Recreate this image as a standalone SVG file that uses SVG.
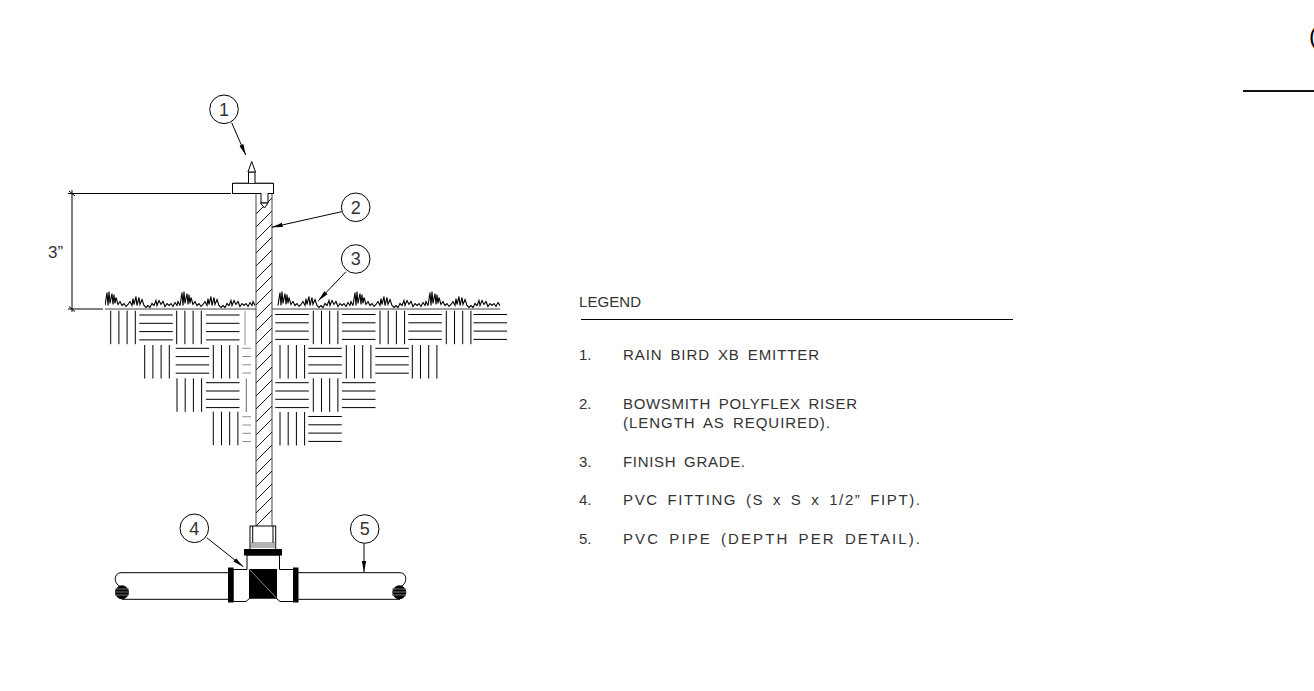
<svg xmlns="http://www.w3.org/2000/svg" width="1314" height="691" viewBox="0 0 1314 691">
<style>
.l{fill:none;stroke:#000;stroke-width:1}
.g{fill:none;stroke:#444;stroke-width:1}
.f{fill:#fff;stroke:#000;stroke-width:1}
.k{fill:#000;stroke:#000;stroke-width:1}
.c{fill:#fff;stroke:#000;stroke-width:1}
.hh{fill:none;stroke:#111;stroke-width:1}
text{font-family:"Liberation Sans",Arial,sans-serif;fill:#333;font-size:15px;word-spacing:3px}
.n{font-size:18px;text-anchor:middle}
</style>
<defs>
<marker id="a" markerUnits="userSpaceOnUse" markerWidth="12" markerHeight="8" refX="11" refY="4" orient="auto"><path d="M0,1.8L11,4L0,6.2Z" fill="#000"/></marker>
<path id="tuft" fill="none" stroke="#000" stroke-width="1.1" d="M0,-3L2,-16L3,-3L4,-17L5,-5L7,-15L8,-4L9,-14L10,-5L11,-11L13,-4L15,-7L17,-3L19,-5L21,-2L23,-4L25,-7L27,-3L28,-10L29,-4L31,-12L32,-3L34,-11L35,-4L37,-9L39,-3L41,-1L43,-3L45,-1L47,-5L49,-3L51,-8L52,-3L54,-8L56,-4L58,-7L60,-2L62,-5L64,-3L66,-5L68,-2L70,-6L72,-3L73,-7L75,-3"/>
<g id="v"><path d="M0,0V33.5M8.2,0V33.5M16.4,0V33.5M24.6,0V33.5" class="l"/></g>
<g id="h"><path d="M0,0H33.5M0,8.3H33.5M0,16.6H33.5M0,24.9H33.5" class="l"/></g>
<clipPath id="rc"><rect x="256" y="193" width="16" height="333"/></clipPath>
<clipPath id="gl"><rect x="105" y="288" width="151" height="22"/></clipPath>
<clipPath id="gr"><rect x="277" y="288" width="223" height="22"/></clipPath>
</defs>

<g id="soil">
<use href="#v" x="110.7" y="310.7"/><use href="#h" x="139.3" y="315"/><use href="#v" x="176.7" y="310.7"/><use href="#h" x="206" y="315"/>
<path d="M245,311V345" class="g" opacity=".6"/>
<use href="#h" x="275.3" y="314.5"/><use href="#v" x="313.3" y="310.7"/><use href="#h" x="342" y="314.5"/><use href="#v" x="380" y="310.7"/><use href="#h" x="408.3" y="314.5"/><use href="#v" x="446.3" y="310.7"/><use href="#h" x="473.5" y="314.5"/>
<use href="#v" x="144.7" y="345"/><use href="#h" x="175.7" y="348.3"/><use href="#v" x="213.3" y="345"/>
<path d="M242.3,348.3H251M242.3,356.5H251M242.3,364.8H251M242.3,373H251" class="g" opacity=".6"/>
<use href="#v" x="280" y="345"/><use href="#h" x="308.3" y="348.3"/><use href="#v" x="346.3" y="345"/><use href="#h" x="375.3" y="348.3"/><use href="#v" x="412.3" y="345"/>
<use href="#v" x="177" y="378.3"/><use href="#h" x="206" y="382.7"/>
<path d="M246.3,378.5V412" class="g" opacity=".8"/>
<use href="#h" x="275.3" y="382.7"/><use href="#v" x="313.3" y="378.3"/><use href="#h" x="342" y="382.7"/>
<use href="#v" x="213.3" y="411.7"/>
<path d="M242.3,416.7H251M242.3,425H251M242.3,433.3H251M242.3,441.5H251" class="g" opacity=".6"/>
<use href="#v" x="280" y="412"/><use href="#h" x="308.3" y="416.5"/>
</g>

<g id="grade">
<path d="M105,309H256M272,309H500" class="g"/>
<g clip-path="url(#gl)"><use href="#tuft" x="105" y="308.5"/><use href="#tuft" x="180" y="308.5"/></g>
<g clip-path="url(#gr)"><use href="#tuft" x="278" y="308.5"/><use href="#tuft" x="353" y="308.5"/><use href="#tuft" x="428" y="308.5"/></g>
</g>

<g id="riser">
<rect x="256" y="193" width="16" height="333" fill="#fff" stroke="none"/>
<g clip-path="url(#rc)"><path class="hh" d="M256,214l16,-16M256,227l16,-16M256,240l16,-16M256,253l16,-16M256,266l16,-16M256,279l16,-16M256,292l16,-16M256,305l16,-16M256,318l16,-16M256,331l16,-16M256,344l16,-16M256,357l16,-16M256,370l16,-16M256,383l16,-16M256,396l16,-16M256,409l16,-16M256,422l16,-16M256,435l16,-16M256,448l16,-16M256,461l16,-16M256,474l16,-16M256,487l16,-16M256,500l16,-16M256,513l16,-16M256,526l16,-16"/></g>
<path class="g" d="M256,193V526M272,193V526"/>
</g>

<g id="emitter">
<rect class="f" x="232.5" y="183.5" width="41" height="10"/>
<path d="M233,183H273" stroke="#555" fill="none"/>
<path class="f" d="M248.5,183V172H255V183"/>
<path class="f" d="M248,172L251.7,161.5L255.5,172Z"/>
<path class="f" d="M261,193V203H268V193"/>
<path class="f" d="M260.5,203H268L264.5,208Z"/>
</g>

<g id="fitting">
<path class="l" d="M121,572.7C114,572.7 113,583 120,586.5M122,599.3H228M121,572.7H228M298,572.7H400C407,572.7 408,583 401,586.5M298,599.3H400"/>
<circle class="k" cx="122" cy="592.3" r="6.5"/>
<circle class="k" cx="399.3" cy="592.3" r="6.5"/>
<path d="M115,589H129M115,592H129M115,595H129M392,589H406M392,592H406M392,595H406" stroke="#777" fill="none"/>
<path class="f" d="M233,569.5H247V555H279.5V569.5H293.5V601.5H280L276,598H250L246,601.5H233Z"/>
<rect class="f" x="250" y="526" width="25.7" height="23.5"/>
<path class="l" d="M252.7,526V543M273,526V543"/>
<path d="M250,543H275.7M250,545H275.7M250,547H275.7" stroke="#666" fill="none"/>
<rect class="k" x="244.5" y="549.5" width="37" height="5.5"/>
<rect class="k" x="249.5" y="569.5" width="27" height="28.5"/>
<path d="M249.5,569.5L276.5,598" stroke="#aaa" stroke-width=".8" fill="none"/>
<rect class="k" x="228.5" y="568" width="4.5" height="34"/>
<rect class="k" x="293.5" y="568" width="4.5" height="34"/>
</g>

<g id="connectors">
<path class="l" marker-end="url(#a)" d="M231.7,122.7L245.7,155"/>
<path class="l" marker-end="url(#a)" d="M341.7,211.7L271.7,227.3"/>
<path class="l" marker-end="url(#a)" d="M346,271.7L318.3,300.7"/>
<path class="l" marker-end="url(#a)" d="M206.7,537.7L243.3,566.7"/>
<path class="l" marker-end="url(#a)" d="M364,543.3V572"/>
<path class="l" d="M68,193.5H231M68,309H103"/>
<path class="l" d="M72,190V312"/>
<path class="l" d="M69,191L75,196M69,306.5L75,311.5"/>
</g>

<g id="callout1"><circle class="c" cx="224" cy="109.3" r="14.3"/><text class="n" x="224" y="115.7">1</text></g>
<g id="callout2"><circle class="c" cx="355.7" cy="207.3" r="14.3"/><text class="n" x="355.7" y="213.7">2</text></g>
<g id="callout3"><circle class="c" cx="355.7" cy="259" r="14.3"/><text class="n" x="355.7" y="265.4">3</text></g>
<g id="callout4"><circle class="c" cx="194.3" cy="528.3" r="14.3"/><text class="n" x="194.3" y="534.7">4</text></g>
<g id="callout5"><circle class="c" cx="364.7" cy="529" r="14.3"/><text class="n" x="364.7" y="535.4">5</text></g>

<g id="dimension"><text x="48" y="258" style="font-size:17px">3”</text></g>

<g id="legend">
<text x="579" y="306.5" textLength="62">LEGEND</text>
<path class="l" d="M581,319.5H1013"/>
<text x="579" y="360">1.</text><text x="623" y="360" textLength="196">RAIN BIRD XB EMITTER</text>
<text x="579" y="408.5">2.</text><text x="623" y="408.5" textLength="234">BOWSMITH POLYFLEX RISER</text>
<text x="623" y="427.5" textLength="207">(LENGTH AS REQUIRED).</text>
<text x="579" y="466.5">3.</text><text x="623" y="466.5" textLength="122">FINISH GRADE.</text>
<text x="579" y="505">4.</text><text x="623" y="505" textLength="297">PVC FITTING (S x S x 1/2” FIPT).</text>
<text x="579" y="544">5.</text><text x="623" y="544" textLength="297">PVC PIPE (DEPTH PER DETAIL).</text>
</g>

<g id="sheet">
<text x="1309" y="44" style="font-size:24px;fill:#000">(</text>
<path d="M1243,91H1314" stroke="#111" stroke-width="2" fill="none"/>
</g>
</svg>
